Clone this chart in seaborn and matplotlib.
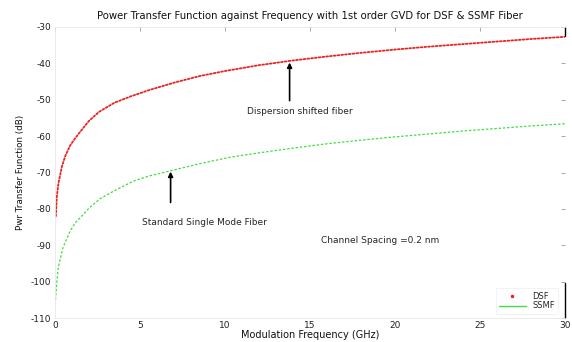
import matplotlib
matplotlib.use("Agg")
import matplotlib.pyplot as plt
from matplotlib.lines import Line2D
import seaborn as sns
import pandas as pd

# ---- data ----
dsf_freq = [0.05, 0.1, 0.2, 0.4, 0.6, 0.9, 1.2, 1.5, 2.0, 2.6, 3.5, 4.5, 5.5, 7, 8.5,
            10, 12, 14, 16, 18, 20, 22, 24, 26, 28, 30]
dsf_db = [-82, -77, -73, -68.5, -65.5, -62.5, -60.5, -58.7, -55.8, -53.3, -50.8, -49,
          -47.4, -45.3, -43.5, -42.1, -40.5, -39.2, -38.1, -37.1, -36.2, -35.4, -34.7,
          -34.0, -33.3, -32.7]
ssmf_freq = [0.03, 0.1, 0.2, 0.47, 0.9, 1.2, 1.65, 2.0, 2.65, 3.5, 4.6, 5.5, 7, 8.5,
             10.3, 12, 14, 16, 18, 20, 22, 24, 26, 28, 30]
ssmf_db = [-105, -100.5, -96, -90.6, -86, -83.8, -81.6, -79.8, -77.2, -75, -72.4, -71,
           -69.3, -67.6, -65.8, -64.6, -63.3, -62.1, -61.1, -60.2, -59.4, -58.6, -57.9,
           -57.2, -56.6]
x_ticks = [0, 5, 10, 15, 20, 25, 30]
y_ticks = [-110, -100, -90, -80, -70, -60, -50, -40, -30]

title = "Power Transfer Function against Frequency with 1st order GVD for DSF & SSMF Fiber"
xlabel = "Modulation Frequency (GHz)"
ylabel = "Pwr Transfer Function (dB)"

dsf = pd.DataFrame({"f": dsf_freq, "p": dsf_db})
ssmf = pd.DataFrame({"f": ssmf_freq, "p": ssmf_db})

sns.set_theme(style="white")
plt.rcParams["font.family"] = ["DejaVu Sans"]

fig = plt.figure(figsize=(5.72, 3.42), dpi=100)
ax = fig.add_axes([55 / 572, 1 - 318 / 342, (565 - 55) / 572, (318 - 27) / 342])

red = "#ee2020"
green = "#44dd44"
sns.lineplot(data=dsf, x="f", y="p", ax=ax, color=red, linewidth=1.3,
             linestyle=(0, (1, 1.1)), dash_capstyle="round")
sns.lineplot(data=ssmf, x="f", y="p", ax=ax, color=green, linewidth=0.9,
             linestyle=(0, (2, 1.4)))

ax.set_xlim(0, 30)
ax.set_ylim(-110, -30)
ax.set_xticks(x_ticks)
ax.set_yticks(y_ticks)
ax.set_xticklabels([str(t) for t in x_ticks])
ax.set_yticklabels([str(t) for t in y_ticks])
ax.tick_params(direction="in", length=3, width=0.6, color="#999999",
               labelsize=6.5, labelcolor="#222222", top=True, right=True, pad=2.5)
for s in ["left", "bottom", "top"]:
    ax.spines[s].set_color("#e8e8e8")
    ax.spines[s].set_linewidth(0.6)
ax.spines["right"].set_visible(False)
ax.axvline(30, ymin=0.0, ymax=0.12, color="black", linewidth=1.0, clip_on=False)
ax.axvline(30, ymin=0.97, ymax=1.0, color="black", linewidth=1.0, clip_on=False)

ax.set_title(title, fontsize=7.3, pad=6, color="#111111")
ax.set_xlabel(xlabel, fontsize=7, labelpad=-0.5, color="#111111")
ax.set_ylabel(ylabel, fontsize=6.3, labelpad=4, color="#111111")

arrow = dict(arrowstyle="-|>", color="black", linewidth=1.2, mutation_scale=7)
ax.annotate("", xy=(13.8, -39.0), xytext=(13.8, -51.0), arrowprops=arrow)
ax.text(14.4, -53.2, "Dispersion shifted fiber", fontsize=6.5, ha="center", va="center")
ax.annotate("", xy=(6.8, -69.0), xytext=(6.8, -79.0), arrowprops=arrow)
ax.text(8.8, -83.8, "Standard Single Mode Fiber", fontsize=6.5, ha="center", va="center")
ax.text(19.1, -88.7, "Channel Spacing =0.2 nm", fontsize=6.5, ha="center", va="center")

handles = [Line2D([], [], color=red, marker=".", markersize=3, linestyle="none"),
           Line2D([], [], color=green, linewidth=1.0)]
leg = ax.legend(handles, ["DSF", "SSMF"], loc="lower right", fontsize=6,
                frameon=True, fancybox=False, borderpad=0.4, handlelength=3.2,
                labelspacing=0.1, bbox_to_anchor=(0.995, 0.0))
leg.get_frame().set_edgecolor("#eeeeee")
leg.get_frame().set_linewidth(0.6)

fig.savefig("out.png", dpi=100)
